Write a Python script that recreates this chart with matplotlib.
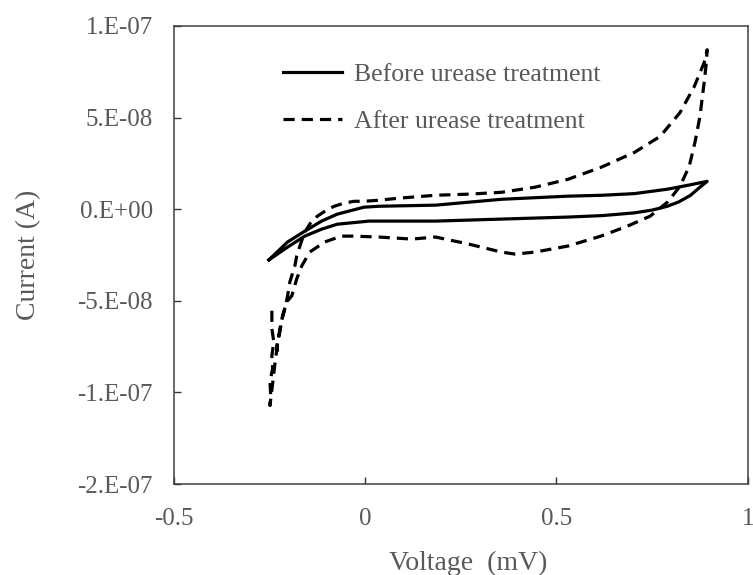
import numpy as np
import matplotlib
matplotlib.use("Agg")
import matplotlib.pyplot as plt

plt.rcParams['font.family'] = ['Liberation Serif', 'DejaVu Serif']

# Before urease treatment (closed CV loop), voltage in V, current in 1e-8 A
before_v = [-0.252, -0.203, -0.158, -0.114, -0.073, -0.003, 0.036, 0.184, 0.356, 0.530,
            0.620, 0.704, 0.790, 0.850, 0.894,
            0.875, 0.850, 0.820, 0.790, 0.750, 0.704, 0.620, 0.530, 0.356, 0.184,
            0.010, -0.073, -0.114, -0.158, -0.203, -0.252]
before_i = [-2.77, -1.79, -1.20, -0.65, -0.27, 0.11, 0.16, 0.22, 0.54, 0.71,
            0.76, 0.85, 1.09, 1.33, 1.52,
            1.20, 0.75, 0.40, 0.16, -0.05, -0.20, -0.35, -0.43, -0.54, -0.65,
            -0.65, -0.82, -1.09, -1.47, -2.07, -2.77]

# After urease treatment
after_v = [-0.244, -0.244, -0.239, -0.244, -0.242, -0.249, -0.247, -0.249,
           -0.242, -0.236, -0.229, -0.221, -0.210, -0.203, -0.197, -0.184, -0.179,
           -0.169, -0.158, -0.143, -0.125, -0.101, -0.081, -0.055, -0.029, -0.003,
           0.036, 0.088, 0.184, 0.270, 0.356, 0.444, 0.530, 0.616, 0.704, 0.771,
           0.823, 0.860, 0.886, 0.894,
           0.891, 0.886, 0.875, 0.862, 0.847, 0.823, 0.790, 0.745, 0.686, 0.616,
           0.530, 0.444, 0.392, 0.356, 0.270, 0.184, 0.122, 0.036, -0.029, -0.062,
           -0.106, -0.145, -0.166, -0.179, -0.192, -0.205, -0.216, -0.223, -0.231,
           -0.229]
after_i = [-5.54, -6.52, -7.23, -7.99, -8.70, -9.40, -10.16, -10.71,
           -9.51, -8.42, -7.34, -6.25, -5.43, -4.73, -3.97, -3.10, -2.55,
           -1.90, -1.25, -0.76, -0.38, -0.05, 0.16, 0.33, 0.43, 0.43,
           0.49, 0.60, 0.76, 0.82, 0.92, 1.20, 1.63, 2.28, 3.10, 3.97,
           5.27, 6.68, 7.99, 8.70,
           7.83, 6.90, 5.05, 3.64, 2.34, 1.25, 0.38, -0.38, -0.92, -1.47,
           -2.01, -2.34, -2.45, -2.34, -1.90, -1.52, -1.63, -1.52, -1.47, -1.47,
           -1.79, -2.34, -3.10, -3.80, -4.73, -5.05, -5.82, -6.68, -7.45,
           -7.77]

x_ticks = [-0.5, 0, 0.5, 1]
x_labels = ['-0.5', '0', '0.5', '1']
y_ticks = [-1.5e-7, -1e-7, -5e-8, 0, 5e-8, 1e-7]
y_labels = ['-2.E-07', '-1.E-07', '-5.E-08', '0.E+00', '5.E-08', '1.E-07']

gray = '#595959'

fig = plt.figure(figsize=(7.53, 5.75), dpi=100)
ax = fig.add_axes([0.231, 0.158, 0.762, 0.797])

ax.plot(before_v, np.array(before_i) * 1e-8, color='black', lw=2.3,
        solid_joinstyle='round', label='Before urease treatment')
ax.plot(after_v, np.array(after_i) * 1e-8, color='black', lw=2.3,
        linestyle=(0, (3.5, 2.2)), label='After urease treatment')

ax.set_xlim(-0.5, 1)
ax.set_ylim(-1.5e-7, 1e-7)
ax.set_xticks(x_ticks, x_labels)
ax.set_yticks(y_ticks, y_labels)
ax.tick_params(direction='in', length=5, width=1, color='#333333',
               labelsize=18, labelcolor=gray)
ax.tick_params(axis='x', pad=17)
ax.tick_params(axis='y', pad=15)
for s in ax.spines.values():
    s.set_color('#404040')
    s.set_linewidth(1.1)

ax.set_xlabel('Voltage  (mV)', fontsize=20, color=gray)
ax.set_ylabel('Current (A)', fontsize=20, color=gray)
ax.xaxis.set_label_coords(0.512, -0.145)
ax.yaxis.set_label_coords(-0.232, 0.5)

leg = ax.legend(loc='upper left', bbox_to_anchor=(0.19, 0.918), frameon=False,
                fontsize=18.5, handlelength=2.3, handletextpad=0.45,
                labelspacing=0.9, borderpad=0, borderaxespad=0)
for t in leg.get_texts():
    t.set_color(gray)

fig.savefig('out.png', dpi=100)
